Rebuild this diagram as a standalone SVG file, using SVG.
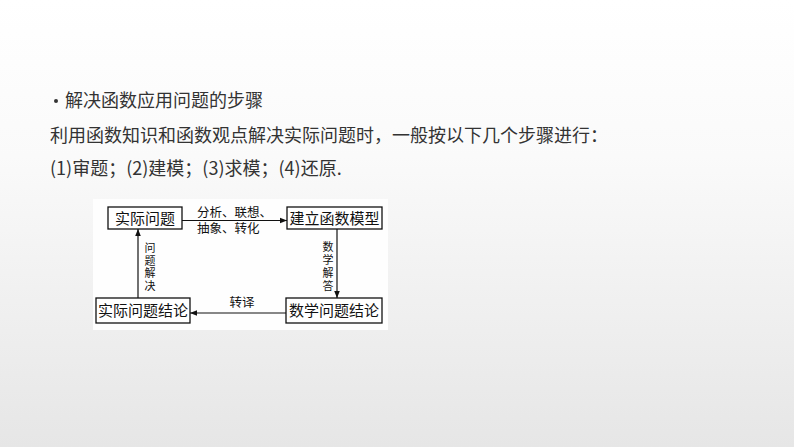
<svg xmlns="http://www.w3.org/2000/svg" width="794" height="447" viewBox="0 0 794 447">
<defs>
<linearGradient id="bg" x1="0" y1="0" x2="0" y2="1">
<stop offset="0" stop-color="#ffffff"/>
<stop offset="0.35" stop-color="#fafafa"/>
<stop offset="1" stop-color="#e6e6e6"/>
</linearGradient>
<marker id="arr" viewBox="0 0 10 10" refX="10" refY="5" markerWidth="7" markerHeight="7" markerUnits="userSpaceOnUse" orient="auto">
<path d="M0,1 L10,5 L0,9 Z" fill="#111"/>
</marker>
<style>
.t{font-family:"Noto Sans CJK SC","Liberation Sans",sans-serif;font-size:18px;fill:#333}
.box{fill:#fff;stroke:#111;stroke-width:1.3}
.bt{font-family:"Liberation Serif","Noto Sans CJK SC",serif;font-size:15px;fill:#111;text-anchor:middle}
.lb{font-family:"Liberation Serif","Noto Sans CJK SC",serif;font-size:12.5px;fill:#111}
.vl{font-family:"Liberation Serif","Noto Sans CJK SC",serif;font-size:11px;fill:#111;text-anchor:middle}
.ln{stroke:#111;stroke-width:1.2;fill:none}
</style>
</defs>
<rect width="794" height="447" fill="url(#bg)"/>
<circle cx="56" cy="101" r="2" fill="#333"/>
<text class="t" x="65" y="107">解决函数应用问题的步骤</text>
<text class="t" x="50" y="142">利用函数知识和函数观点解决实际问题时，一般按以下几个步骤进行：</text>
<text class="t" x="50" y="175">(1)审题；(2)建模；(3)求模；(4)还原.</text>
<rect x="93" y="199" width="295" height="131" fill="#fefefe"/>
<g id="connectors">
<line class="ln" x1="182" y1="220.5" x2="287" y2="220.5" marker-end="url(#arr)"/>
<line class="ln" x1="337" y1="229" x2="337" y2="298" marker-end="url(#arr)"/>
<line class="ln" x1="286" y1="313" x2="190" y2="313" marker-end="url(#arr)"/>
<line class="ln" x1="138" y1="298" x2="138" y2="229" marker-end="url(#arr)"/>
<text class="lb" x="197" y="217">分析、联想、</text>
<text class="lb" x="197" y="233">抽象、转化</text>
<text class="vl" x="328"><tspan x="328" y="251">数</tspan><tspan x="328" y="264">学</tspan><tspan x="328" y="277">解</tspan><tspan x="328" y="290">答</tspan></text>
<text class="vl" x="150"><tspan x="150" y="252">问</tspan><tspan x="150" y="264.5">题</tspan><tspan x="150" y="277">解</tspan><tspan x="150" y="289.5">决</tspan></text>
<text class="lb" x="242" y="307" text-anchor="middle">转译</text>
</g>
<g id="n1"><rect class="box" x="108" y="207" width="74" height="22"/><text class="bt" x="145" y="223.5">实际问题</text></g>
<g id="n2"><rect class="box" x="287" y="207" width="95" height="22"/><text class="bt" x="334.5" y="223.5">建立函数模型</text></g>
<g id="n3"><rect class="box" x="96" y="298" width="94" height="25"/><text class="bt" x="143" y="316">实际问题结论</text></g>
<g id="n4"><rect class="box" x="286" y="298" width="96" height="25"/><text class="bt" x="334" y="316">数学问题结论</text></g>
</svg>
